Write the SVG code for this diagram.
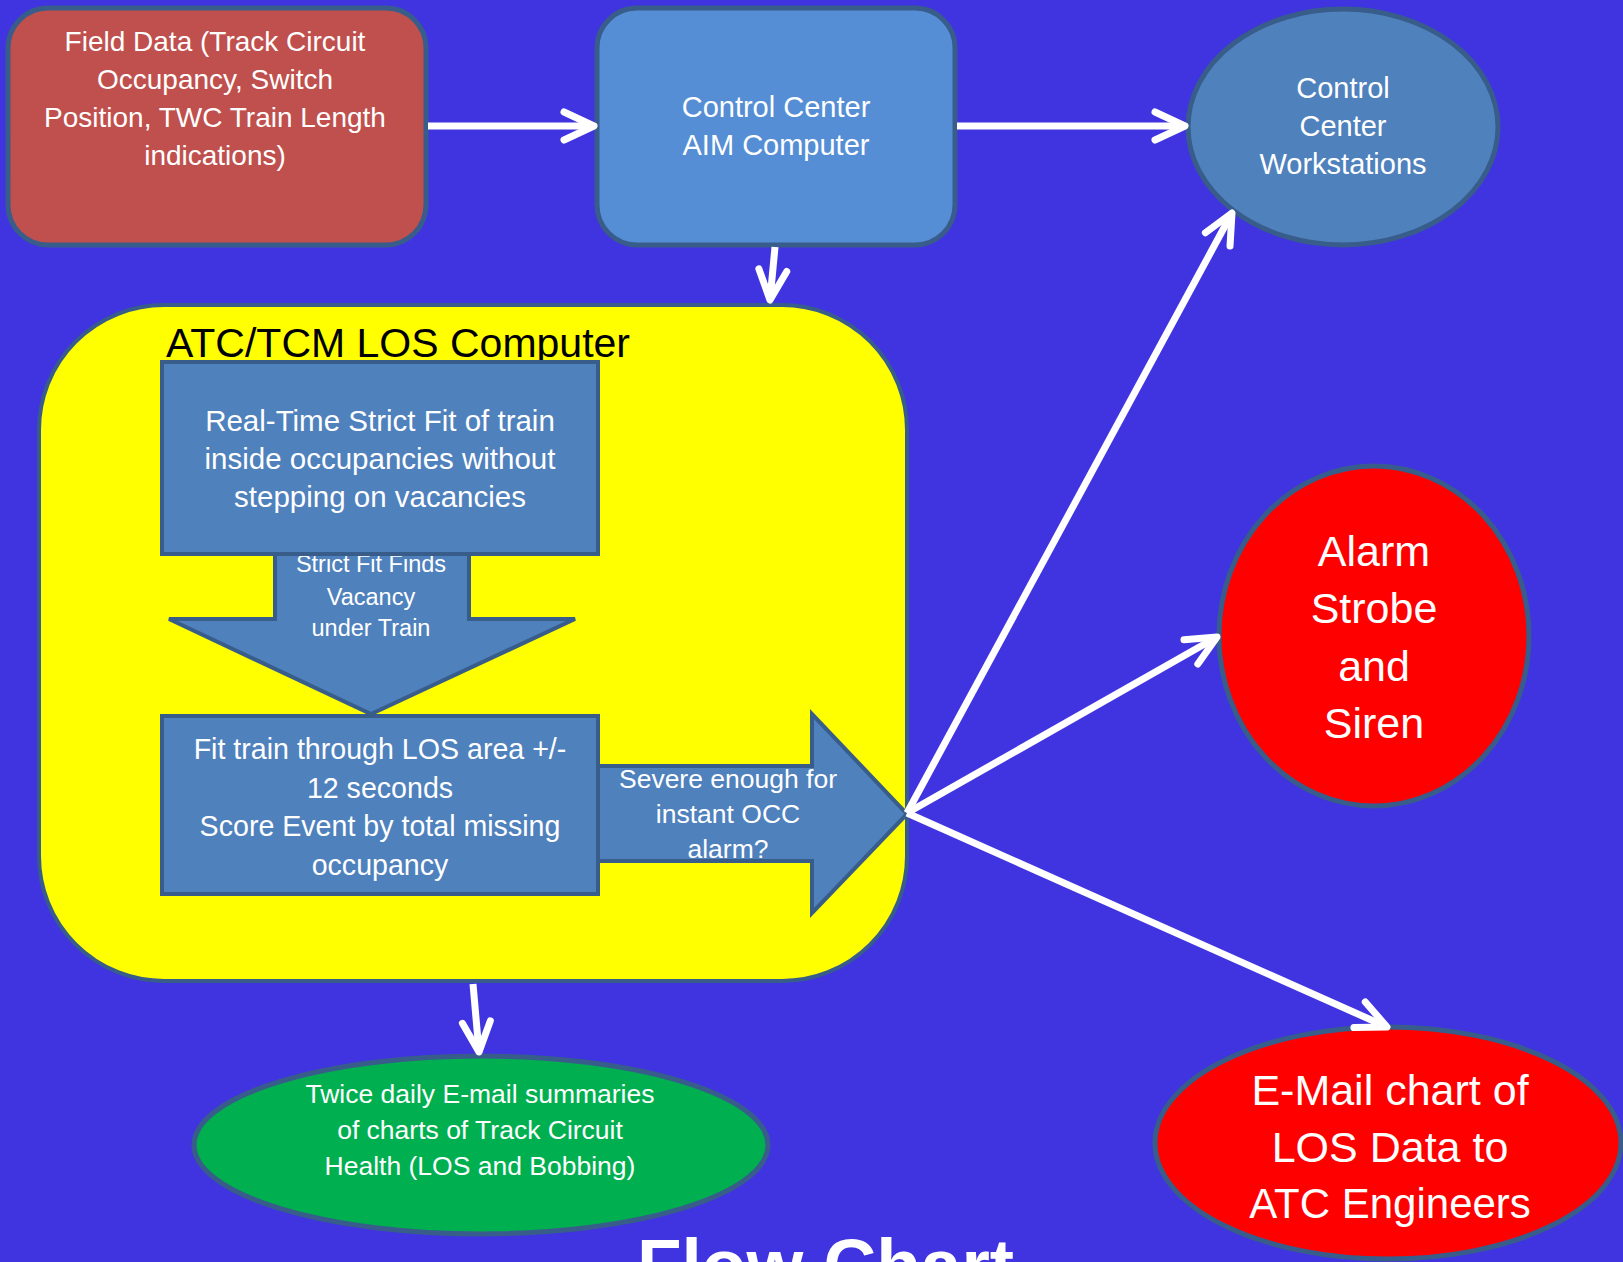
<svg xmlns="http://www.w3.org/2000/svg" width="1623" height="1262" viewBox="0 0 1623 1262">
<style>
.t{font-family:"Liberation Sans",Arial,sans-serif;fill:#fff;text-anchor:middle}
.edge{stroke:#385d8a}
.conn{fill:none;stroke:#fff;stroke-width:7;marker-end:url(#chev)}
</style>
<defs>
<marker id="chev" markerUnits="userSpaceOnUse" markerWidth="80" markerHeight="80" viewBox="-40 -40 80 80" refX="0" refY="0" orient="auto" overflow="visible">
<path d="M-30,-14 L0,0 L-30,14" fill="none" stroke="#fff" stroke-width="7" stroke-linecap="round" stroke-linejoin="round"/>
</marker>
</defs>
<rect width="1623" height="1262" fill="#3f34e0"/>

<g id="field-data">
<rect x="8" y="8" width="418" height="237" rx="40" fill="#c0504d" class="edge" stroke-width="5"/>
<text class="t" font-size="28" x="215" y="51">Field Data (Track Circuit</text>
<text class="t" font-size="28" x="215" y="89">Occupancy, Switch</text>
<text class="t" font-size="28" x="215" y="127">Position, TWC Train Length</text>
<text class="t" font-size="28" x="215" y="165">indications)</text>
</g>

<g id="aim-computer">
<rect x="597" y="8" width="358" height="237" rx="40" fill="#558ed5" class="edge" stroke-width="5"/>
<text class="t" font-size="29" x="776" y="117">Control Center</text>
<text class="t" font-size="29" x="776" y="155">AIM Computer</text>
</g>

<g id="workstations">
<ellipse cx="1343" cy="127" rx="155" ry="118" fill="#4f81bd" class="edge" stroke-width="5"/>
<text class="t" font-size="29" x="1343" y="98">Control</text>
<text class="t" font-size="29" x="1343" y="136">Center</text>
<text class="t" font-size="29" x="1343" y="174">Workstations</text>
</g>

<g id="los-computer">
<rect x="39" y="305" width="868" height="676" rx="125" fill="#ffff00" class="edge" stroke-width="4"/>
<text font-family="Liberation Sans, Arial, sans-serif" font-size="41" fill="#000" x="166" y="357">ATC/TCM LOS Computer</text>
</g>

<g id="vacancy-arrow">
<polygon points="275,552 469,552 469,619 575,619 371,714 169,619 275,619" fill="#4f81bd" class="edge" stroke-width="4" stroke-linejoin="miter"/>
<text class="t" font-size="23.5" x="371" y="572">Strict Fit Finds</text>
<text class="t" font-size="23.5" x="371" y="605">Vacancy</text>
<text class="t" font-size="23.5" x="371" y="636">under Train</text>
</g>

<g id="severe-arrow">
<polygon points="596,766 812,766 812,714 907,814 812,913 812,861 596,861" fill="#4f81bd" class="edge" stroke-width="4"/>
<text class="t" font-size="26.5" x="728" y="788">Severe enough for</text>
<text class="t" font-size="26.5" x="728" y="823">instant OCC</text>
<text class="t" font-size="26.5" x="728" y="858">alarm?</text>
</g>

<g id="strict-fit">
<rect x="162" y="362" width="436" height="192" fill="#4f81bd" class="edge" stroke-width="4"/>
<text class="t" font-size="29.5" x="380" y="431">Real-Time Strict Fit of train</text>
<text class="t" font-size="29.5" x="380" y="469">inside occupancies without</text>
<text class="t" font-size="29.5" x="380" y="507">stepping on vacancies</text>
</g>

<g id="fit-train">
<rect x="162" y="716" width="436" height="178" fill="#4f81bd" class="edge" stroke-width="4"/>
<text class="t" font-size="28.6" x="380" y="759">Fit train through LOS area +/-</text>
<text class="t" font-size="28.6" x="380" y="798">12 seconds</text>
<text class="t" font-size="28.6" x="380" y="836">Score Event by total missing</text>
<text class="t" font-size="28.6" x="380" y="875">occupancy</text>
</g>

<g id="alarm">
<ellipse cx="1374" cy="636" rx="155" ry="170" fill="#ff0000" class="edge" stroke-width="5"/>
<text class="t" font-size="43" x="1374" y="566">Alarm</text>
<text class="t" font-size="43" x="1374" y="623">Strobe</text>
<text class="t" font-size="43" x="1374" y="681">and</text>
<text class="t" font-size="43" x="1374" y="738">Siren</text>
</g>

<g id="email-engineers">
<ellipse cx="1388" cy="1143" rx="233" ry="116" fill="#ff0000" class="edge" stroke-width="5"/>
<text class="t" font-size="43" x="1390" y="1105">E-Mail chart of</text>
<text class="t" font-size="43" x="1390" y="1162">LOS Data to</text>
<text class="t" font-size="42" x="1390" y="1218">ATC Engineers</text>
</g>

<g id="email-summaries">
<ellipse cx="481" cy="1145" rx="287" ry="89" fill="#00b050" class="edge" stroke-width="5"/>
<text class="t" font-size="26.5" x="480" y="1103">Twice daily E-mail summaries</text>
<text class="t" font-size="26.5" x="480" y="1139">of charts of Track Circuit</text>
<text class="t" font-size="26.5" x="480" y="1175">Health (LOS and Bobbing)</text>
</g>

<g id="connectors">
<line class="conn" x1="428" y1="126" x2="594" y2="126"/>
<line class="conn" x1="957" y1="126" x2="1185" y2="126"/>
<line class="conn" x1="775" y1="247" x2="770" y2="300"/>
<line class="conn" x1="473" y1="984" x2="479" y2="1052"/>
<line class="conn" x1="907" y1="813" x2="1232" y2="213"/>
<line class="conn" x1="907" y1="813" x2="1217" y2="637"/>
<line class="conn" x1="907" y1="813" x2="1387" y2="1027"/>
</g>

<text font-family="Liberation Sans, Arial, sans-serif" font-weight="bold" font-size="73" fill="#fff" x="637" y="1290">Flow Chart</text>
</svg>
